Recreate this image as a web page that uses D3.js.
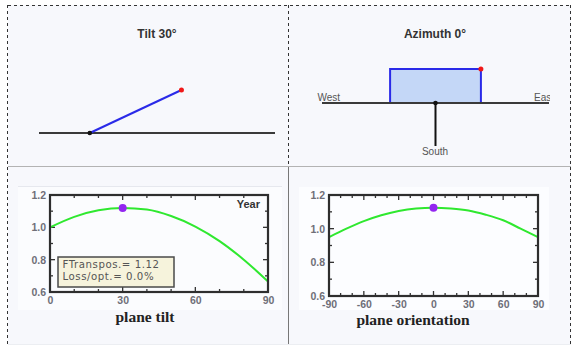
<!DOCTYPE html>
<html><head><meta charset="utf-8">
<script src="https://cdn.jsdelivr.net/npm/d3@7"></script>
<style>html,body{margin:0;padding:0;background:#fff}svg{display:block}</style>
</head><body>
<svg id="c" width="576" height="347"></svg>
<script>
// ---- data ----
const tiltAngle = 30;
const azimuthAngle = 0;
const tiltX = [0, 10, 20, 30, 40, 50, 60, 70, 80, 90];
const tiltFactor = [1.0, 1.065, 1.105, 1.12, 1.11, 1.07, 1.005, 0.915, 0.80, 0.665];
const orientX = [-90, -75, -60, -45, -30, -15, 0, 15, 30, 45, 60, 75, 90];
const orientFactor = [0.95, 1.0, 1.045, 1.08, 1.105, 1.12, 1.125, 1.12, 1.108, 1.083, 1.05, 1.0, 0.95];
const tiltOpt = [30, 1.12];
const orientOpt = [0, 1.125];
const tiltTicks = [0, 30, 60, 90];
const orientTicks = [-90, -60, -30, 0, 30, 60, 90];
const yTicks = [0.6, 0.8, 1.0, 1.2];
const legendLines = ["FTranspos.= 1.12", "Loss/opt.= 0.0%"];
const titles = ["Tilt 30°", "Azimuth 0°"];
const compass = ["West", "East", "South"];
const xTitles = ["plane tilt", "plane orientation"];
const periodLabel = "Year";

const svg = d3.select("#c");
const fmt = d3.format(".1f");

// ---- panels ----
svg.append("rect").attr("x", 8).attr("y", 5).attr("width", 563).attr("height", 340).attr("fill", "#f7f8fc");
svg.append("rect").attr("x", 18).attr("y", 186).attr("width", 264).attr("height", 124).attr("fill", "#fbfcfe");
svg.append("line").attr("x1", 18).attr("x2", 282).attr("y1", 186.5).attr("y2", 186.5).attr("stroke", "#e6e8ee");
svg.append("rect").attr("x", 299).attr("y", 187).attr("width", 250).attr("height", 123).attr("fill", "#fcfdff");
const dash = {stroke: "#333", "stroke-width": 1, "stroke-dasharray": "3,3"};
function ln(x1, y1, x2, y2, st) {
  const l = svg.append("line").attr("x1", x1).attr("y1", y1).attr("x2", x2).attr("y2", y2);
  Object.entries(st).forEach(([k, v]) => l.attr(k, v));
  return l;
}
ln(8, 5.5, 571, 5.5, dash);
ln(7.5, 5, 7.5, 345, dash);
ln(570.5, 5, 570.5, 345, dash);
ln(288.5, 5, 288.5, 166, dash);
ln(288.5, 167, 288.5, 345, {stroke: "#777", "stroke-width": 1});
ln(8, 166.5, 571, 166.5, {stroke: "#b3b3b3", "stroke-width": 1.2});
ln(8, 344.5, 571, 344.5, {stroke: "#eceef2", "stroke-width": 1});

// ---- tilt sketch ----
const tl = svg.append("g");
tl.append("text").attr("x", 157).attr("y", 37.5).attr("text-anchor", "middle")
  .attr("font-family", "Liberation Sans, Arial").attr("font-weight", "bold").attr("font-size", 12)
  .attr("fill", "#333").text(titles[0]);
const skX = d3.scaleLinear().domain([-0.48, 1.75]).range([39, 275]);
const skY = d3.scaleLinear().domain([0, 1]).range([133, 47]);
tl.append("line").attr("x1", skX(-0.48)).attr("x2", skX(1.75)).attr("y1", skY(0)).attr("y2", skY(0))
  .attr("stroke", "#3a3a3a").attr("stroke-width", 2);
const rad = tiltAngle * Math.PI / 180;
tl.append("line").attr("x1", skX(0)).attr("y1", skY(0)).attr("x2", skX(Math.cos(rad))).attr("y2", skY(Math.sin(rad)))
  .attr("stroke", "#2a2ae8").attr("stroke-width", 2);
tl.append("circle").attr("cx", skX(0)).attr("cy", skY(0)).attr("r", 2.3).attr("fill", "#111");
tl.append("circle").attr("cx", skX(Math.cos(rad))).attr("cy", skY(Math.sin(rad))).attr("r", 2.5).attr("fill", "#f01818");

// ---- azimuth sketch ----
const az = svg.append("g");
svg.append("clipPath").attr("id", "azclip").append("rect").attr("x", 290).attr("y", 6).attr("width", 260).attr("height", 160);
az.attr("clip-path", "url(#azclip)");
az.append("text").attr("x", 435).attr("y", 37.5).attr("text-anchor", "middle")
  .attr("font-family", "Liberation Sans, Arial").attr("font-weight", "bold").attr("font-size", 12)
  .attr("fill", "#333").text(titles[1]);
const aX = d3.scaleLinear().domain([-1, 1]).range([322, 549]);
const aY = d3.scaleLinear().domain([0, 1]).range([103, 69]);
const halfW = 0.4;
const ca = Math.cos(azimuthAngle * Math.PI / 180);
az.append("rect").attr("x", aX(-halfW * ca)).attr("y", aY(1)).attr("width", aX(halfW * ca) - aX(-halfW * ca)).attr("height", aY(0) - aY(1))
  .attr("fill", "#c4d7f7").attr("stroke", "#2a2ae8").attr("stroke-width", 2);
az.append("line").attr("x1", aX(-1)).attr("x2", aX(1)).attr("y1", aY(0)).attr("y2", aY(0))
  .attr("stroke", "#3a3a3a").attr("stroke-width", 2);
az.append("line").attr("x1", aX(0)).attr("x2", aX(0)).attr("y1", aY(0)).attr("y2", 146)
  .attr("stroke", "#111").attr("stroke-width", 2);
az.append("circle").attr("cx", aX(0)).attr("cy", aY(0)).attr("r", 2.3).attr("fill", "#111");
az.append("circle").attr("cx", aX(halfW * ca)).attr("cy", aY(1)).attr("r", 2.5).attr("fill", "#f01818");
const cf = {"font-family": "Liberation Sans, Arial", "font-size": 10, fill: "#555"};
function ctext(x, y, t, anchor) {
  const e = az.append("text").attr("x", x).attr("y", y).attr("text-anchor", anchor).text(t);
  Object.entries(cf).forEach(([k, v]) => e.attr(k, v));
}
ctext(317.5, 100.5, compass[0], "start");
ctext(534, 100.5, compass[1], "start");
ctext(435, 155, compass[2], "middle");

// ---- charts ----
function chart(opt) {
  const g = svg.append("g");
  const x = d3.scaleLinear().domain(opt.xd).range([opt.x0, opt.x1]);
  const y = d3.scaleLinear().domain([0.6, 1.2]).range([opt.y1, opt.y0]);
  const tickCol = "#333";
  const xMinor = d3.range(opt.xd[0], opt.xd[1] + 0.01, 10);
  const yMinor = d3.range(0.6, 1.201, 0.1);
  xMinor.forEach(v => {
    const major = opt.ticks.includes(Math.round(v));
    const L = major ? 5 : 3;
    g.append("line").attr("x1", x(v)).attr("x2", x(v)).attr("y1", opt.y1).attr("y2", opt.y1 - L).attr("stroke", tickCol).attr("stroke-width", 1.3);
    g.append("line").attr("x1", x(v)).attr("x2", x(v)).attr("y1", opt.y0).attr("y2", opt.y0 + L).attr("stroke", tickCol).attr("stroke-width", 1.3);
  });
  yMinor.forEach((v, i) => {
    const L = i % 2 === 0 ? 5 : 3;
    g.append("line").attr("x1", opt.x0).attr("x2", opt.x0 + L).attr("y1", y(v)).attr("y2", y(v)).attr("stroke", tickCol).attr("stroke-width", 1.3);
    g.append("line").attr("x1", opt.x1).attr("x2", opt.x1 - L).attr("y1", y(v)).attr("y2", y(v)).attr("stroke", tickCol).attr("stroke-width", 1.3);
  });
  const line = d3.line().x(d => x(d[0])).y(d => y(d[1])).curve(d3.curveMonotoneX);
  g.append("path").datum(opt.xs.map((v, i) => [v, opt.ys[i]])).attr("d", line)
    .attr("fill", "none").attr("stroke", "#2fe82f").attr("stroke-width", 2);
  g.append("rect").attr("x", opt.x0).attr("y", opt.y0).attr("width", opt.x1 - opt.x0).attr("height", opt.y1 - opt.y0)
    .attr("fill", "none").attr("stroke", "#2e2e2e").attr("stroke-width", 2.2);
  g.append("circle").attr("cx", x(opt.opt[0])).attr("cy", y(opt.opt[1])).attr("r", 4).attr("fill", "#9326f0");
  const tf = {"font-family": "Liberation Sans, Arial", "font-weight": "bold", "font-size": 10.5, fill: "#6f6f78"};
  const xa = g.append("g").attr("transform", `translate(0,${opt.y1})`)
    .call(d3.axisBottom(x).tickValues(opt.ticks).tickSize(0).tickPadding(5).tickFormat(d => String(d)));
  xa.select(".domain").remove();
  xa.selectAll("text").each(function () { const s = d3.select(this); Object.entries(tf).forEach(([k, v]) => s.attr(k, v)); });
  xa.attr("font-family", null).attr("font-size", null);
  const ya = g.append("g").attr("transform", `translate(${opt.x0},0)`)
    .call(d3.axisLeft(y).tickValues(yTicks).tickSize(0).tickPadding(4).tickFormat(fmt));
  ya.select(".domain").remove();
  ya.selectAll("text").each(function () { const s = d3.select(this); Object.entries(tf).forEach(([k, v]) => s.attr(k, v)); });
  ya.attr("font-family", null).attr("font-size", null);
  g.append("text").attr("x", opt.tx).attr("y", opt.ty).attr("text-anchor", "middle")
    .attr("font-family", "Liberation Serif, Times New Roman, serif").attr("font-weight", "bold").attr("font-size", 15.5)
    .attr("fill", "#222").text(opt.title);
  return {g, x, y};
}

const c1 = chart({xd: [0, 90], x0: 50, x1: 268, y0: 195, y1: 292, xs: tiltX, ys: tiltFactor, opt: tiltOpt,
  ticks: tiltTicks, title: xTitles[0], tx: 145, ty: 322});
const c2 = chart({xd: [-90, 90], x0: 329, x1: 538, y0: 195, y1: 296, xs: orientX, ys: orientFactor, opt: orientOpt,
  ticks: orientTicks, title: xTitles[1], tx: 413, ty: 325});

c1.g.append("text").attr("x", 260).attr("y", 208).attr("text-anchor", "end")
  .attr("font-family", "Liberation Sans, Arial").attr("font-weight", "bold").attr("font-size", 11)
  .attr("fill", "#333").text(periodLabel);
const lg = c1.g.append("g");
lg.append("rect").attr("x", 58).attr("y", 257).attr("width", 116).attr("height", 30)
  .attr("fill", "#f6f3dc").attr("stroke", "#4a4a4a").attr("stroke-width", 1.5);
lg.selectAll("text.l").data(legendLines).join("text").attr("class", "l")
  .attr("x", 62.5).attr("y", (d, i) => 268 + i * 12)
  .attr("font-family", "DejaVu Sans, Verdana").attr("font-size", 10.2).attr("letter-spacing", 0.55).attr("fill", "#555")
  .text(d => d);
</script>
</body></html>
